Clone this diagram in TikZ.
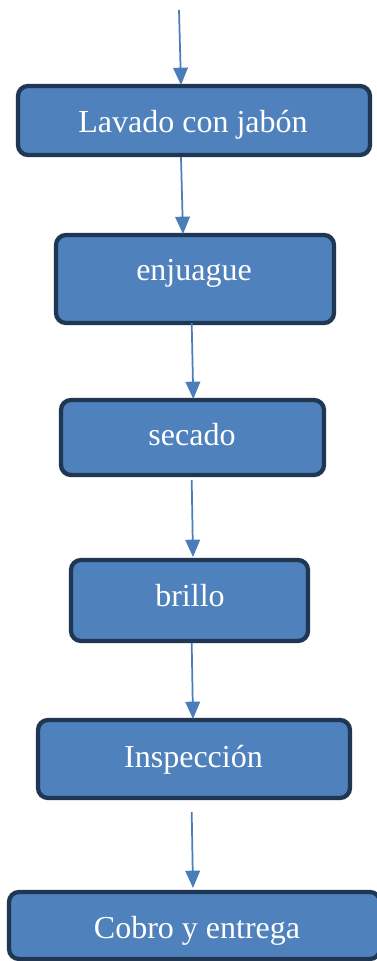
\documentclass[tikz,border=0pt]{standalone}
\usepackage{fontspec}
\setmainfont{Liberation Serif}
\usetikzlibrary{arrows.meta,calc}
\definecolor{boxfill}{HTML}{4F81BD}
\definecolor{boxline}{HTML}{1F3752}
\definecolor{arrcol}{HTML}{4A7EBB}
\tikzset{
  stepbox/.style={draw=boxline, fill=boxfill, line width=3.2pt, rounded corners=7.5pt,
    inner sep=0pt, outer sep=0pt},
  steptxt/.style={anchor=base, text=white, inner sep=0pt,
    font=\fontsize{24}{28}\selectfont},
  arr/.style={draw=arrcol, line width=1.3pt, -{Triangle[length=13pt,width=11pt]}}
}
\begin{document}
\begin{tikzpicture}[x=0.75pt,y=-0.75pt]
\clip (0,0) rectangle (377,961);
\fill[white] (0,0) rectangle (377,961);
% boxes
\node[stepbox, minimum width=352*0.75pt, minimum height=69*0.75pt] (b1) at (194,120.5) {};
\node[stepbox, minimum width=278*0.75pt, minimum height=88*0.75pt] (b2) at (195,279) {};
\node[stepbox, minimum width=263*0.75pt, minimum height=75*0.75pt] (b3) at (192.5,437.5) {};
\node[stepbox, minimum width=237*0.75pt, minimum height=81*0.75pt] (b4) at (189.5,600.5) {};
\node[stepbox, minimum width=312*0.75pt, minimum height=78*0.75pt] (b5) at (194,759) {};
\node[stepbox, minimum width=371*0.75pt, minimum height=67*0.75pt] (b6) at (194.5,925.5) {};
% texts
\node[steptxt] (t1) at (193,132) {Lavado con jabón};
\node[steptxt] (t2) at (194,280) {enjuague};
\node[steptxt] (t3) at (192,445) {secado};
\node[steptxt] (t4) at (190,606) {brillo};
\node[steptxt] (t5) at (193.5,767) {Inspección};
\node[steptxt] (t6) at (197,938) {Cobro y entrega};
% arrows
\coordinate (start) at (179,10);
\draw[arr] (start) -- ($(b1.north)+(-13,-1)$);
\draw[arr] ($(b1.south)+(-13,2)$) -- ($(b2.north)+(-12,-1)$);
\draw[arr] ($(b2.south)+(-3.3,0)$) -- ($(b3.north)+(0.8,-1)$);
\draw[arr] ($(b3.south)+(-0.8,5)$) -- ($(b4.north)+(3.5,-3)$);
\draw[arr] ($(b4.south)+(2.2,2)$) -- ($(b5.north)+(-1,-1)$);
\draw[arr] ($(b5.south)+(-2.3,14)$) -- ($(b6.north)+(-1.5,-4)$);
\end{tikzpicture}
\end{document}
